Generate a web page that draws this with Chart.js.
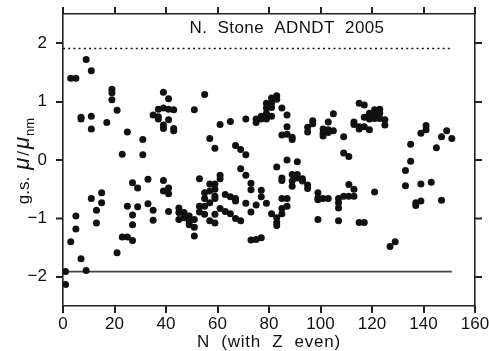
<!DOCTYPE html>
<html>
<head>
<meta charset="utf-8">
<script src="https://cdn.jsdelivr.net/npm/chart.js@4"></script>
<style>
html,body{margin:0;padding:0;background:#fff;}
canvas{display:block;}
</style>
</head>
<body>
<canvas id="c" width="489" height="351"></canvas>
<script>
// ---- data: neutron number N and ground-state mu/mu_nm ----
const nValues = [
 1,1, 3,3, 5,5,5, 7,7,7, 9,9, 11,11,11,11, 13,13, 15,15, 17, 19,19,19, 21,21, 23,23, 25,25,25,
 27,27,27,27, 29,29, 31,31, 33,33, 35,35,35, 37,37,37, 39,39,39,39,39,39, 41,41,41,41,41,41,
 43,43,43, 45,45,45, 47,47, 49,49,49, 51,51,51,51, 53,53,53, 55,55,55,55,55, 57,57,57,57,57,
 59,59,59,59,59,59,59, 61,61,61,61, 63,63, 65,65,65, 67,67,67,67, 69,69,69, 71,71,71,71,
 73,73,73,73, 75,75,75,75, 77,77,77,77,77, 79,79,79,79,79, 81,81,81,81,81, 83,83,83,83,83,83,
 85,85,85,85,85,85,85, 87,87,87,87,87,87, 89,89,89,89,89, 91,91,91, 93,93, 95,95,95,95, 97,97,
 99,99,99,99, 101,101,101,101, 103,103,103,103, 105,105, 107,107,107,107, 109,109,109,
 111,111,111, 113,113,113,113, 115,115,115,115, 117,117,117,117, 119,119,119, 121,121,121,121,
 123,123,123, 125,125, 127, 129, 133,133, 135,135, 137,137, 139,139,139, 141,141, 143, 145,
 147,147, 149, 151
];
const muValues = [
 -1.91,-2.13, 1.40,-1.40, 1.40,-0.96,-1.18, 0.73,0.70,-1.69, 1.72,-1.89, 1.53,0.75,0.53,-0.66,
 -0.86,-1.08, -0.56,-0.73, 0.64, 1.21,1.15,1.03, 0.85,-1.59, 0.10,-1.32, 0.48,-0.79,-1.32,
 -0.39,-0.94,-1.11,-1.38, -0.48,-0.80, 0.35,0.09, -0.33,-0.75, 0.77,-0.86,-1.03, 0.87,0.74,0.70,
 1.16,0.89,0.60,0.54,-0.35,-0.53, 1.05,0.87,0.69,-0.48,-0.58,-0.88,
 0.86,0.54,0.50, -0.82,-0.90,-1.02, -0.90,-0.99, -0.96,-1.06,-1.11, 0.86,-1.02,-1.15,-1.30,
 -0.32,-0.79,-0.89, 1.12,-0.56,-0.66,-0.79,-0.93, 0.37,-0.41,-0.53,-0.73,-1.04,
 0.20,-0.41,-0.50,-0.62,-0.66,-0.93,-1.08, 0.61,-0.26,-0.32,-0.83, -0.59,-0.88, 0.66,-0.63,-0.92,
 0.25,-0.66,-0.70,-1.00, 0.18,-0.15,-1.04, 0.70,0.09,-0.26,-0.74,
 -0.40,-0.51,-0.89,-1.37, 0.70,0.64,-0.77,-1.36, 0.75,0.70,-0.52,-0.63,-1.33,
 0.97,0.89,0.80,0.70,-0.74, 1.06,0.97,0.90,0.75,-0.92, 1.10,1.04,-0.12,-0.99,-1.07,-1.12,
 0.89,0.43,-0.31,-0.35,-0.66,-0.83,-0.92, 0.77,0.57,0.44,0.00,-0.66,-0.79,
 0.39,0.35,-0.25,-0.36,-0.45, -0.03,-0.25,-0.31, -0.32,-0.36, 0.56,0.48,-0.43,-0.49, 0.67,0.62,
 -0.56,-0.65,-0.68,-1.02, 0.53,0.46,0.41,-0.66, 0.65,0.52,0.47,-0.66, 0.79,0.50,
 -0.66,-0.73,-0.82,-1.04, 0.40,0.12,-0.62,
 0.06,-0.42,-0.62, 0.65,0.61,-0.50,-0.62, 0.97,0.57,0.53,-1.07, 0.94,0.73,0.57,-1.07,
 0.80,0.70,0.52, 0.86,0.75,0.71,-0.55,
 0.87,0.80,0.71, 0.69,0.60, -1.48, -1.40, -0.18,-0.44, 0.27,-0.02, -0.73,-0.78,
 0.46,-0.41,-0.70, 0.59,0.52, -0.38, 0.21, 0.40,-0.69, 0.50, 0.37
];
// reference lines
const limitN = [0, 151];
const upperLimit = 1.91;
const lowerLimit = -1.91;
// axis ticks
const xTicks = [0, 20, 40, 60, 80, 100, 120, 140, 160];
const yTicks = [-2, -1, 0, 1, 2];
const titleText = 'N.  Stone  ADNDT  2005';
const xTitle = 'N  (with  Z  even)';

const points = nValues.map((n, i) => ({x: n, y: muValues[i]}));
const upperLine = limitN.map(n => ({x: n, y: upperLimit}));
const lowerLine = limitN.map(n => ({x: n, y: lowerLimit}));

const FONT = '"Liberation Sans", Arial, Helvetica, sans-serif';
const INK = '#111';
const FRAME = '#222';
const TICK_LEN = 7;

function fixTicks(vals) {
  return function(scale) { scale.ticks = vals.map(v => ({value: v})); };
}
function fitTo(size) {
  return function(s) {
    if (s.isHorizontal()) { s.height = size; } else { s.width = size; }
    s.paddingTop = 0; s.paddingBottom = 0; s.paddingLeft = 0; s.paddingRight = 0;
  };
}
const gridOpts = {drawOnChartArea: false, drawTicks: true, tickLength: TICK_LEN, color: FRAME, lineWidth: 1.5};
const borderOpts = {display: true, color: FRAME, width: 1.6};
const hiddenLabels = {display: true, color: 'rgba(0,0,0,0)', font: {size: 10}, padding: 0};

// outward tick marks on all four sides, placed by the chart's own scales
const tickPlugin = {
  id: 'outerTicks',
  afterDraw(chart) {
    const ctx = chart.ctx;
    const a = chart.chartArea;
    const sx = chart.scales.x, sy = chart.scales.y;
    ctx.save();
    ctx.strokeStyle = FRAME;
    ctx.lineWidth = 1.5;
    ctx.beginPath();
    xTicks.forEach(v => {
      const px = Math.round(sx.getPixelForValue(v)) + 0.25;
      ctx.moveTo(px, a.top); ctx.lineTo(px, a.top - TICK_LEN);
      ctx.moveTo(px, a.bottom); ctx.lineTo(px, a.bottom + TICK_LEN);
    });
    yTicks.forEach(v => {
      const py = Math.round(sy.getPixelForValue(v)) + 0.25;
      ctx.moveTo(a.left, py); ctx.lineTo(a.left - TICK_LEN, py);
      ctx.moveTo(a.right, py); ctx.lineTo(a.right + TICK_LEN, py);
    });
    ctx.stroke();
    ctx.restore();
  }
};

const textPlugin = {
  id: 'texts',
  afterDraw(chart) {
    const ctx = chart.ctx;
    const area = chart.chartArea;
    ctx.save();
    ctx.fillStyle = INK;
    ctx.font = '17px ' + FONT;
    ctx.textAlign = 'center';
    ctx.textBaseline = 'middle';
    ctx.letterSpacing = '0.4px';
    ctx.fillText(titleText, 287, 28);
    ctx.letterSpacing = '0.8px';
    ctx.fillText(xTitle, (area.left + area.right) / 2, 342);
    ctx.letterSpacing = '0px';
    ctx.translate(23, 161);
    ctx.rotate(-Math.PI / 2);
    const parts = [
      {t: 'g.s.', f: '17px ' + FONT, dy: 0, gap: 7},
      {t: 'μ', f: 'italic 22px ' + FONT, dy: 0, gap: 2},
      {t: '/', f: '17px ' + FONT, dy: 0, gap: 2},
      {t: 'μ', f: 'italic 22px ' + FONT, dy: 0, gap: 1},
      {t: 'nm', f: '13px ' + FONT, dy: 5, gap: 0}
    ];
    let total = 0;
    parts.forEach(p => { ctx.font = p.f; p.w = ctx.measureText(p.t).width; total += p.w + p.gap; });
    let x = -total / 2;
    ctx.textAlign = 'left';
    ctx.textBaseline = 'alphabetic';
    parts.forEach(p => { ctx.font = p.f; ctx.fillText(p.t, x, 6 + p.dy); x += p.w + p.gap; });
    ctx.restore();
  }
};

new Chart(document.getElementById('c'), {
  type: 'scatter',
  data: {
    datasets: [
      {data: points, backgroundColor: INK, borderWidth: 0, pointRadius: 3.5, pointHoverRadius: 3.5},
      {type: 'line', data: upperLine, borderColor: INK, borderWidth: 1.6, borderDash: [2, 3.2], pointRadius: 0, fill: false},
      {type: 'line', data: lowerLine, borderColor: '#444', borderWidth: 1.8, pointRadius: 0, fill: false}
    ]
  },
  options: {
    responsive: false,
    animation: false,
    events: [],
    layout: {padding: 0},
    plugins: {legend: {display: false}, tooltip: {enabled: false}, title: {display: false}},
    scales: {
      x: {
        type: 'linear', position: 'bottom', min: 0, max: 160,
        afterBuildTicks: fixTicks(xTicks),
        afterFit: fitTo(45),
        ticks: {font: {size: 17, family: FONT}, color: INK, padding: 1, maxRotation: 0, autoSkip: false},
        grid: gridOpts, border: borderOpts
      },
      x2: {
        type: 'linear', position: 'top', min: 0, max: 160,
        afterBuildTicks: fixTicks(xTicks),
        afterFit: fitTo(14),
        ticks: hiddenLabels,
        grid: gridOpts, border: borderOpts
      },
      y: {
        type: 'linear', position: 'left', min: -2.5, max: 2.5,
        afterBuildTicks: fixTicks(yTicks),
        afterFit: fitTo(63),
        ticks: {font: {size: 17, family: FONT}, color: INK, padding: 9,
          callback: v => String(v).replace('-', '\u2212')},
        grid: gridOpts, border: borderOpts
      },
      y2: {
        type: 'linear', position: 'right', min: -2.5, max: 2.5,
        afterBuildTicks: fixTicks(yTicks),
        afterFit: fitTo(14),
        ticks: hiddenLabels,
        grid: gridOpts, border: borderOpts
      }
    }
  },
  plugins: [tickPlugin, textPlugin]
});
</script>
</body>
</html>
